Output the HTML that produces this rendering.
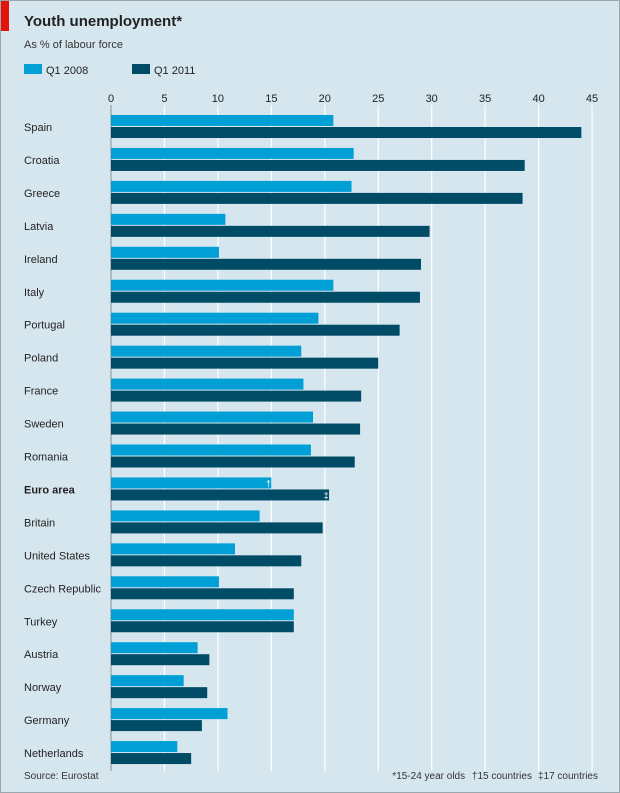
<!DOCTYPE html>
<html><head><meta charset="utf-8"><style>
html,body{margin:0;padding:0;}
body{width:620px;height:793px;background:#fff;font-family:"Liberation Sans",sans-serif;}
#wrap{position:absolute;left:0;top:0;width:618px;height:791px;background:#d6e6ef;border:1px solid #9aa7ad;overflow:hidden;}
text{font-family:"Liberation Sans",sans-serif;}
</style></head><body>
<div id="wrap">
<svg id="chart" width="618" height="791">
<rect x="0" y="0" width="8" height="30" fill="#e3120b"/>
<text x="23" y="25" font-size="15" font-weight="bold" fill="#222">Youth unemployment*</text>
<text x="23" y="47" font-size="11" fill="#333">As % of labour force</text>
<rect x="23" y="63" width="18" height="10" fill="#00a0d6"/>
<text x="45" y="73" font-size="11" fill="#222">Q1 2008</text>
<rect x="131" y="63" width="18" height="10" fill="#004b66"/>
<text x="153" y="73" font-size="11" fill="#222">Q1 2011</text>
<g id="grid"></g><g id="bars"></g><g id="labels"></g>
<text x="23" y="778" font-size="10" fill="#333">Source: Eurostat</text>
<text x="597" y="778" font-size="10" fill="#333" text-anchor="end">*15-24 year olds  <tspan dx="4">†15 countries</tspan><tspan dx="6">‡17 countries</tspan></text>
</svg>
</div>
<script>
const categories=["Spain","Croatia","Greece","Latvia","Ireland","Italy","Portugal","Poland","France","Sweden","Romania","Euro area","Britain","United States","Czech Republic","Turkey","Austria","Norway","Germany","Netherlands"];
const q12008=[20.8,22.7,22.5,10.7,10.1,20.8,19.4,17.8,18.0,18.9,18.7,15.0,13.9,11.6,10.1,17.1,8.1,6.8,10.9,6.2];
const q12011=[44.0,38.7,38.5,29.8,29.0,28.9,27.0,25.0,23.4,23.3,22.8,20.4,19.8,17.8,17.1,17.1,9.2,9.0,8.5,7.5];
const ticks=[0,5,10,15,20,25,30,35,40,45];
const NS="http://www.w3.org/2000/svg";
const x=v=>110+v*10.69;
const rowY=i=>114+i*32.95;
function mk(t,a,p){const e=document.createElementNS(NS,t);for(const k in a)e.setAttribute(k,a[k]);p.appendChild(e);return e;}
const grid=document.getElementById('grid'),bars=document.getElementById('bars'),labels=document.getElementById('labels');
ticks.forEach(t=>{
 if(t>0){const l=mk('line',{x1:x(t),x2:x(t),y1:104,y2:770,stroke:'#fff','stroke-width':1.2},grid);
 
 }
 const tx=mk('text',{x:x(t),y:101,'font-size':11,'text-anchor':'middle',fill:'#222'},grid);
 tx.textContent=t;
 
 
});
categories.forEach((c,i)=>{
 const y=rowY(i);
 const a=mk('rect',{x:x(0),y:y,width:x(q12008[i])-x(0),height:11,fill:'#00a0d6'},bars);
 
 
 const b=mk('rect',{x:x(0),y:y+12,width:x(q12011[i])-x(0),height:11,fill:'#004b66'},bars);
 
 
 const t=mk('text',{x:23,y:y+16,'font-size':11,fill:'#222','font-weight':c==='Euro area'?'bold':'normal'},labels);
 t.textContent=c;
 
 
 if(c==='Euro area'){
  const m1=mk('text',{x:x(q12008[i])-3,y:y+9,'font-size':9,fill:'#fff','text-anchor':'middle'},labels);m1.textContent='†';
  
  
  const m2=mk('text',{x:x(q12011[i])-3,y:y+21,'font-size':9,fill:'#fff','text-anchor':'middle'},labels);m2.textContent='‡';
  
  
 }
});
const ax=mk('line',{x1:x(0),x2:x(0),y1:104,y2:770,stroke:'#8a8f92','stroke-width':1},grid);


</script>
</body></html>
